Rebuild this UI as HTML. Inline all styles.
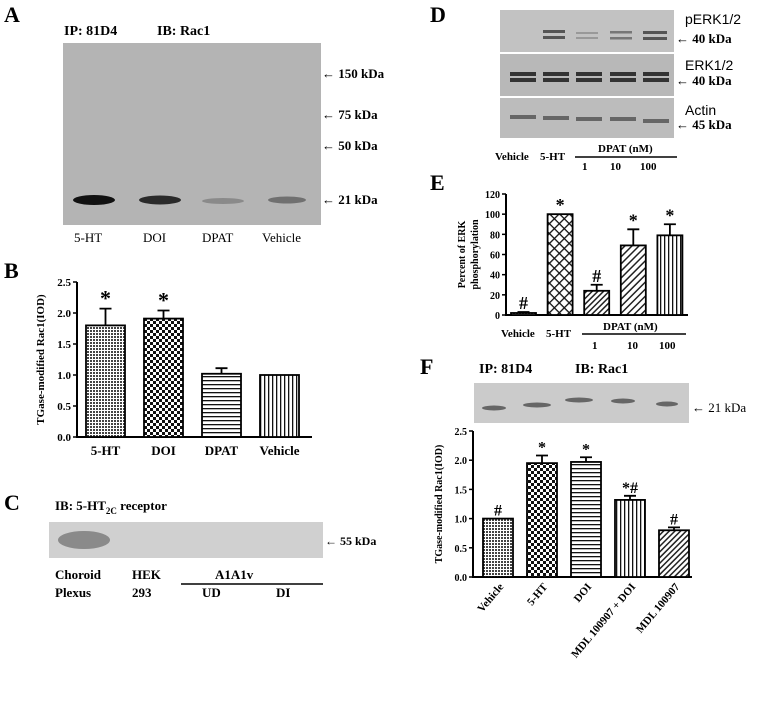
<!DOCTYPE html>
<html><head><meta charset="utf-8"><style>
body{margin:0;background:#fff;}
svg{display:block;font-family:"Liberation Serif",serif;font-weight:bold;}
</style></head><body>
<svg id="fig" width="764" height="701" viewBox="0 0 764 701" xmlns="http://www.w3.org/2000/svg">
<defs>
<pattern id="pDense" width="3" height="3" patternUnits="userSpaceOnUse"><rect width="3" height="3" fill="#fff"/><rect width="2" height="2" fill="#444"/></pattern>
<pattern id="pCheck" width="6" height="6" patternUnits="userSpaceOnUse"><rect width="6" height="6" fill="#fff"/><rect width="3" height="3" fill="#111"/><rect x="3" y="3" width="3" height="3" fill="#111"/></pattern>
<pattern id="pHoriz" width="4" height="4" patternUnits="userSpaceOnUse"><rect width="4" height="4" fill="#fff"/><rect width="4" height="1.3" fill="#111"/></pattern>
<pattern id="pVert" width="4" height="4" patternUnits="userSpaceOnUse"><rect width="4" height="4" fill="#fff"/><rect width="1.3" height="4" fill="#111"/></pattern>
<pattern id="pDiag" width="4" height="4" patternUnits="userSpaceOnUse" patternTransform="rotate(45)"><rect width="4" height="4" fill="#fff"/><rect width="1.5" height="4" fill="#222"/></pattern>
<pattern id="pCross" width="7" height="7" patternUnits="userSpaceOnUse" patternTransform="rotate(45)"><rect width="7" height="7" fill="#fff"/><rect width="1.3" height="7" fill="#111"/><rect width="7" height="1.3" fill="#111"/></pattern>
<pattern id="pDiagW" width="5" height="5" patternUnits="userSpaceOnUse" patternTransform="rotate(45)"><rect width="5" height="5" fill="#fff"/><rect width="1.5" height="5" fill="#222"/></pattern>
</defs>

<!-- Panel A -->
<text x="4" y="22" font-size="22">A</text>
<text x="64" y="35" font-size="14">IP: 81D4</text>
<text x="157" y="35" font-size="14">IB: Rac1</text>
<rect x="63" y="43" width="258" height="182" fill="#b4b4b4"/>
<ellipse cx="94" cy="200" rx="21" ry="5" fill="#111"/>
<ellipse cx="160" cy="200" rx="21" ry="4.5" fill="#2a2a2a"/>
<ellipse cx="223" cy="201" rx="21" ry="3" fill="#8a8a8a"/>
<ellipse cx="287" cy="200" rx="19" ry="3.5" fill="#707070"/>
<g font-size="13">
<text x="322" y="78">← 150 kDa</text><text x="322" y="119">← 75 kDa</text><text x="322" y="150">← 50 kDa</text><text x="322" y="204">← 21 kDa</text>
</g>
<g font-size="13" font-weight="normal">
<text x="74" y="242">5-HT</text><text x="143" y="242">DOI</text><text x="202" y="242">DPAT</text><text x="262" y="242">Vehicle</text>
</g>

<!-- Panel B -->
<text x="4" y="278" font-size="22">B</text>
<g id="chartB"></g>

<!-- Panel C -->
<text x="4" y="510" font-size="22">C</text>
<text x="55" y="510" font-size="13">IB: 5-HT<tspan font-size="9" dy="4">2C</tspan><tspan dy="-4"> receptor</tspan></text>
<rect x="49" y="522" width="274" height="36" fill="#d0d0d0"/>
<ellipse cx="84" cy="540" rx="26" ry="9" fill="#8a8a8a"/>
<text x="325" y="545" font-size="12">← 55 kDa</text>
<g font-size="13">
<text x="55" y="579">Choroid</text><text x="132" y="579">HEK</text><text x="215" y="579">A1A1v</text>
<text x="55" y="597">Plexus</text><text x="132" y="597">293</text><text x="202" y="597">UD</text><text x="276" y="597">DI</text>
</g>
<line x1="181" y1="584" x2="323" y2="584" stroke="#000" stroke-width="1.5"/>

<!-- Panel D -->
<text x="430" y="22" font-size="22">D</text>
<rect x="500" y="10" width="174" height="42" fill="#c2c2c2"/>
<rect x="500" y="54" width="174" height="42" fill="#b8b8b8"/>
<rect x="500" y="98" width="174" height="40" fill="#bcbcbc"/>
<g fill="#555">
<rect x="543" y="30" width="22" height="3"/><rect x="543" y="36" width="22" height="3"/>
<rect x="576" y="32" width="22" height="2" fill="#999"/><rect x="576" y="37" width="22" height="2" fill="#999"/>
<rect x="610" y="31" width="22" height="2.5" fill="#777"/><rect x="610" y="37" width="22" height="2.5" fill="#777"/>
<rect x="643" y="31" width="24" height="3"/><rect x="643" y="37" width="24" height="3"/>
</g>
<g fill="#333">
<rect x="510" y="72" width="26" height="4"/><rect x="510" y="78" width="26" height="4"/>
<rect x="543" y="72" width="26" height="4"/><rect x="543" y="78" width="26" height="4"/>
<rect x="576" y="72" width="26" height="4"/><rect x="576" y="78" width="26" height="4"/>
<rect x="610" y="72" width="26" height="4"/><rect x="610" y="78" width="26" height="4"/>
<rect x="643" y="72" width="26" height="4"/><rect x="643" y="78" width="26" height="4"/>
</g>
<g fill="#666">
<rect x="510" y="115" width="26" height="4"/><rect x="543" y="116" width="26" height="4"/><rect x="576" y="117" width="26" height="4"/><rect x="610" y="117" width="26" height="4"/><rect x="643" y="119" width="26" height="4"/>
</g>
<g font-size="13">
<text x="685" y="24" font-family="Liberation Sans,sans-serif" font-weight="normal" font-size="14">pERK1/2</text><text x="676" y="43">← 40 kDa</text>
<text x="685" y="70" font-family="Liberation Sans,sans-serif" font-weight="normal" font-size="14">ERK1/2</text><text x="676" y="85">← 40 kDa</text>
<text x="685" y="115" font-family="Liberation Sans,sans-serif" font-weight="normal" font-size="14">Actin</text><text x="676" y="129">← 45 kDa</text>
</g>
<g font-size="11">
<text x="495" y="160">Vehicle</text><text x="540" y="160">5-HT</text><text x="598" y="152">DPAT (nM)</text>
<text x="582" y="170">1</text><text x="610" y="170">10</text><text x="640" y="170">100</text>
</g>
<line x1="575" y1="157" x2="677" y2="157" stroke="#000" stroke-width="1.5"/>

<!-- Panel E -->
<text x="430" y="190" font-size="22">E</text>
<g id="chartE"></g>
<g font-size="11">
<text x="501" y="337">Vehicle</text><text x="546" y="337">5-HT</text><text x="603" y="330">DPAT (nM)</text>
<text x="592" y="349">1</text><text x="627" y="349">10</text><text x="659" y="349">100</text>
</g>
<line x1="582" y1="334" x2="686" y2="334" stroke="#000" stroke-width="1.5"/>

<!-- Panel F -->
<text x="420" y="374" font-size="22">F</text>
<text x="479" y="373" font-size="14">IP: 81D4</text>
<text x="575" y="373" font-size="14">IB: Rac1</text>
<rect x="474" y="383" width="215" height="40" fill="#cbcbcb"/>
<g fill="#666">
<ellipse cx="494" cy="408" rx="12" ry="2.5"/><ellipse cx="537" cy="405" rx="14" ry="2.5"/><ellipse cx="579" cy="400" rx="14" ry="2.5"/><ellipse cx="623" cy="401" rx="12" ry="2.5"/><ellipse cx="667" cy="404" rx="11" ry="2.5"/>
</g>
<text x="692" y="412" font-size="13" font-weight="normal">← 21 kDa</text>
<g id="chartF"></g>

<script>
// Panel B data
const bCats=["5-HT","DOI","DPAT","Vehicle"];
const bVals=[1.8,1.91,1.02,1.0];
const bErr=[2.07,2.04,1.11,1.0];
const bTicks=["0.0","0.5","1.0","1.5","2.0","2.5"];
const bMarks=["*","*","",""];
// Panel E data
const eCats=["Vehicle","5-HT","1","10","100"];
const eVals=[2,100,24,69,79];
const eErr=[3,100,30,85,90];
const eTicks=["0","20","40","60","80","100","120"];
const eMarks=["#","*","#","*","*"];
// Panel F data
const fCats=["Vehicle","5-HT","DOI","MDL 100907 + DOI","MDL 100907"];
const fVals=[1.0,1.95,1.97,1.32,0.8];
const fErr=[1.0,2.08,2.05,1.39,0.85];
const fTicks=["0.0","0.5","1.0","1.5","2.0","2.5"];
const fMarks=["#","*","*","*#","#"];

const NS="http://www.w3.org/2000/svg";
function mk(parent,tag,attrs){const e=document.createElementNS(NS,tag);for(const k in attrs)e.setAttribute(k,attrs[k]);parent.appendChild(e);return e;}

function drawChart(g,cfg){
  const y=v=>cfg.y0-(v-cfg.vmin)/(cfg.vmax-cfg.vmin)*(cfg.y0-cfg.y1);
  const ax=mk(g,'path',{d:`M${cfg.x0},${cfg.y1}V${cfg.y0}H${cfg.xEnd}`,fill:'none',stroke:'#000','stroke-width':2});
  
  
  cfg.ticks.forEach((t,i)=>{
    const v=cfg.vmin+i*(cfg.vmax-cfg.vmin)/(cfg.ticks.length-1);
    const tk=mk(g,'line',{x1:cfg.x0-4,x2:cfg.x0,y1:y(v),y2:y(v),stroke:'#000','stroke-width':1.5});
    
    
    const tl=mk(g,'text',{x:cfg.x0-6,y:y(v)+4,'text-anchor':'end','font-size':cfg.fs});
    tl.textContent=t;
    
    
  });
  cfg.vals.forEach((v,i)=>{
    const bx=cfg.bx0+i*cfg.step;
    const e=cfg.err[i];
    if(e>v){
      const el=mk(g,'path',{d:`M${bx+cfg.bw/2},${y(v)}V${y(e)}M${bx+cfg.bw/2-6},${y(e)}H${bx+cfg.bw/2+6}`,stroke:'#000','stroke-width':1.8,fill:'none'});
      
      
    }
    const r=mk(g,'rect',{x:bx,y:y(v),width:cfg.bw,height:cfg.y0-y(v),fill:`url(#${cfg.fills[i]})`,stroke:'#000','stroke-width':1.8});
    
    
    if(cfg.marks[i]){
      const m=mk(g,'text',{x:bx+cfg.bw/2,y:y(Math.max(v,e))-3,'text-anchor':'middle','font-size':cfg.mfs});
      m.textContent=cfg.marks[i];
      
      
    }
    if(cfg.cats){
      const cx=bx+cfg.bw/2;
      const lt=mk(g,'text',cfg.rot?{x:cx+6,y:cfg.y0+10,'text-anchor':'end','font-size':cfg.fs+1,transform:`rotate(-50 ${cx+6} ${cfg.y0+10})`}:{x:cx,y:cfg.y0+18,'text-anchor':'middle','font-size':cfg.fs+2});
      lt.textContent=cfg.cats[i];
      
      
    }
  });
  const yt=mk(g,'text',{x:cfg.tx,y:(cfg.y0+cfg.y1)/2,'text-anchor':'middle','font-size':cfg.fs,transform:`rotate(-90 ${cfg.tx} ${(cfg.y0+cfg.y1)/2})`});
  yt.textContent=cfg.title;
  
  
}

drawChart(document.getElementById('chartB'),{name:'chart-b',x0:77,xEnd:312,y0:437,y1:282,vmin:0,vmax:2.5,ticks:bTicks,vals:bVals,err:bErr,marks:bMarks,cats:bCats,bx0:86,step:58,bw:39,fills:['pDense','pCheck','pHoriz','pVert'],fs:11,mfs:22,tx:44,title:'TGase-modified Rac1(IOD)'});
drawChart(document.getElementById('chartE'),{name:'chart-e',x0:506,xEnd:688,y0:315,y1:194,vmin:0,vmax:120,ticks:eTicks,vals:eVals,err:eErr,marks:eMarks,cats:null,bx0:511,step:36.6,bw:25,fills:['pDense','pCross','pDiag','pDiagW','pVert'],fs:10,mfs:18,tx:465,title:'Percent of ERK'});
const eT2=document.createElementNS(NS,'text');
eT2.setAttribute('x',478);eT2.setAttribute('y',254.5);eT2.setAttribute('text-anchor','middle');eT2.setAttribute('font-size',10);eT2.setAttribute('transform','rotate(-90 478 254.5)');
eT2.textContent='phosphorylation';


document.getElementById('chartE').appendChild(eT2);
drawChart(document.getElementById('chartF'),{name:'chart-f',x0:473,xEnd:692,y0:577,y1:431,vmin:0,vmax:2.5,ticks:fTicks,vals:fVals,err:fErr,marks:fMarks,cats:fCats,bx0:483,step:44,bw:30,fills:['pDense','pCheck','pHoriz','pVert','pDiag'],fs:10,mfs:16,tx:442,title:'TGase-modified Rac1(IOD)',rot:true});
</script>
</svg>
</body></html>
